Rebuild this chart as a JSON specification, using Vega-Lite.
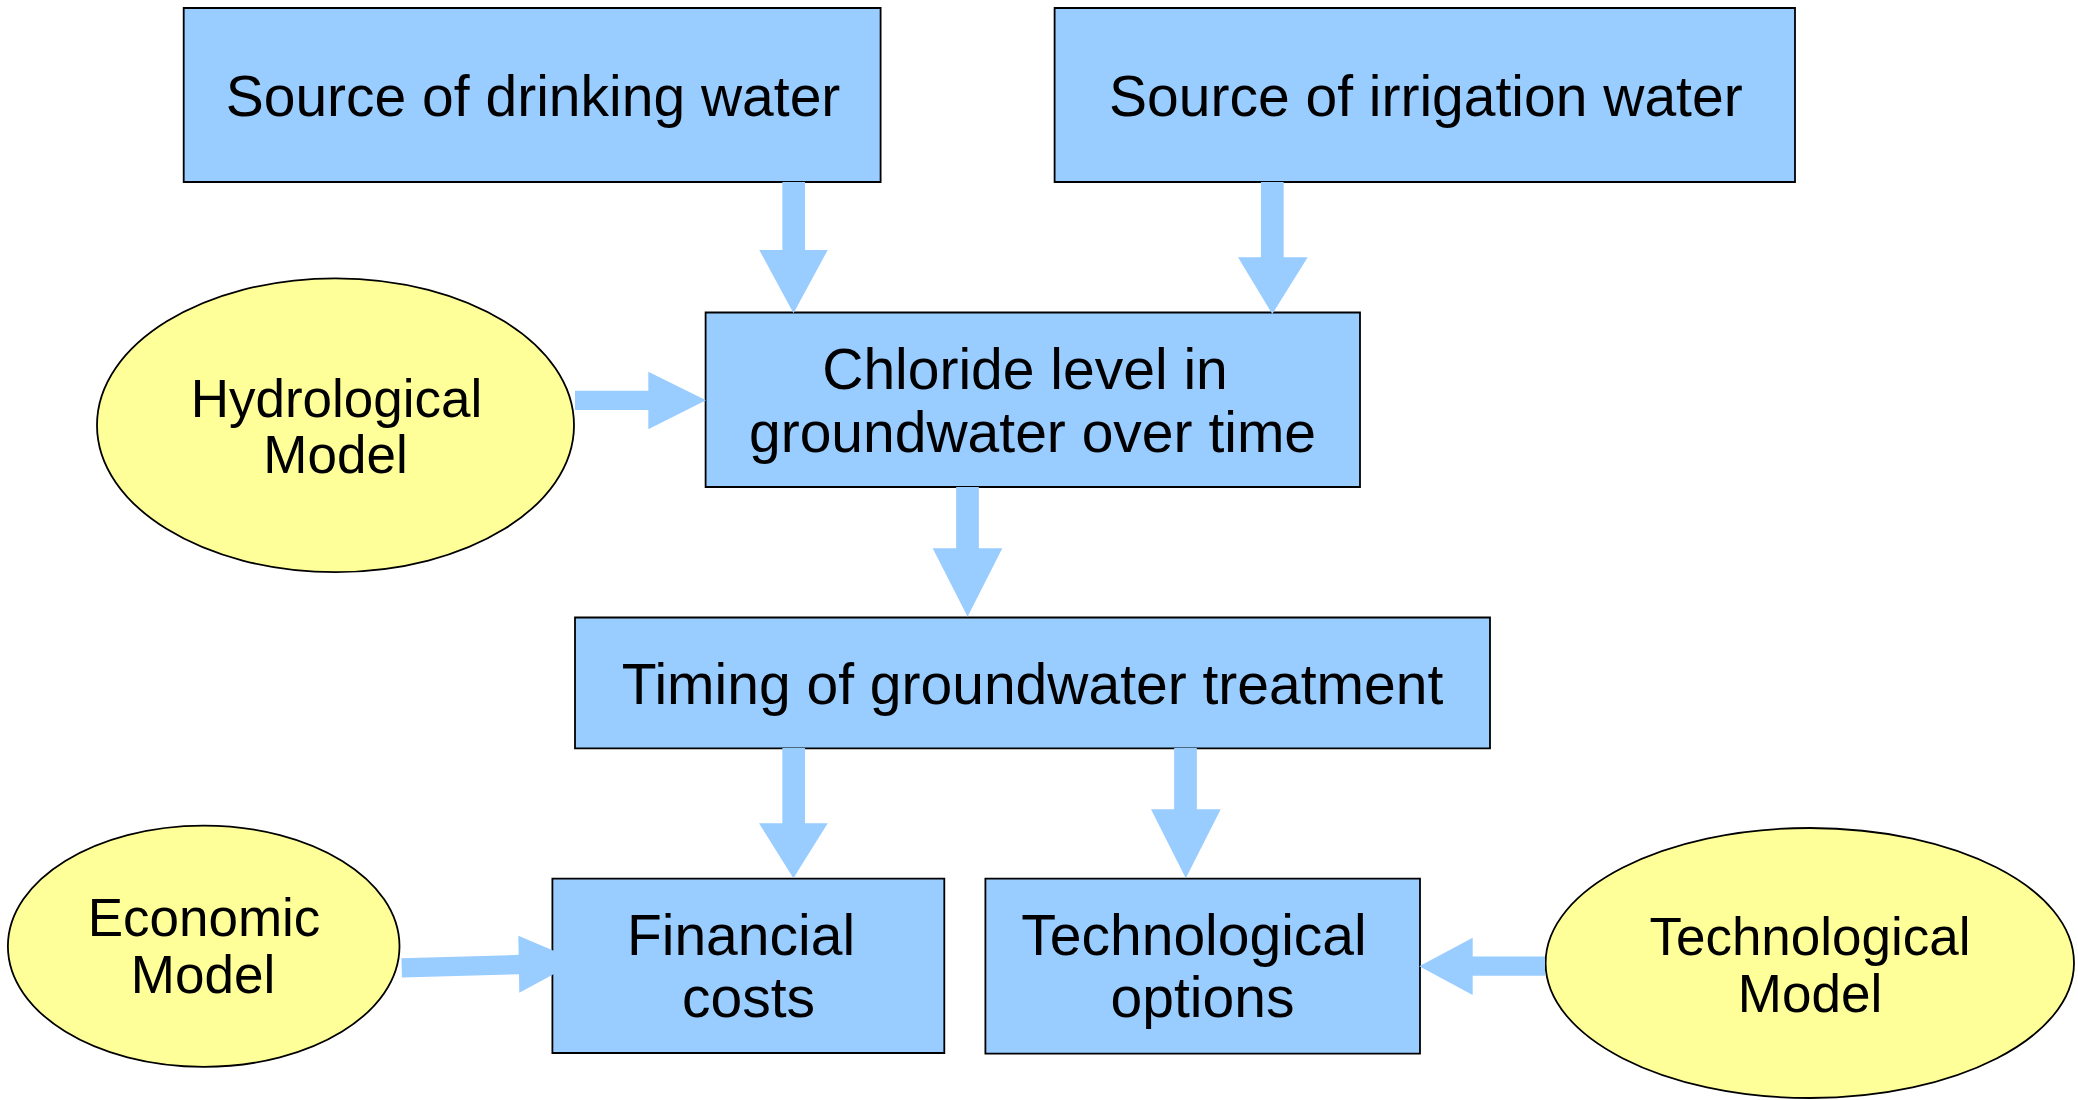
{
  "$schema": "https://vega.github.io/schema/vega-lite/v6.json",
  "width": 2078,
  "height": 1100,
  "autosize": {"type": "none"},
  "padding": 0,
  "background": "#ffffff",
  "config": {"view": {"stroke": null}},
  "datasets": {
    "boxes": [
      {"name": "drinking", "x1": 183.7, "x2": 880.6, "y1": 8, "y2": 182},
      {"name": "irrigation", "x1": 1054.6, "x2": 1795, "y1": 8, "y2": 182},
      {"name": "chloride", "x1": 705.6, "x2": 1360, "y1": 312.5, "y2": 487},
      {"name": "timing", "x1": 575, "x2": 1490, "y1": 617.5, "y2": 748.3},
      {"name": "financial", "x1": 552.4, "x2": 944.3, "y1": 878.6, "y2": 1053},
      {"name": "options", "x1": 985.4, "x2": 1420, "y1": 878.6, "y2": 1053.6}
    ],
    "ovals": [
      {"name": "Hydrological Model", "cx": 335.5, "cy": 425.2, "w": 477, "form": "a"},
      {"name": "Economic Model", "cx": 203.7, "cy": 946.2, "w": 391.6, "form": "a"},
      {"name": "Technological Model", "cx": 1809.8, "cy": 963, "w": 528.4, "form": "b"}
    ],
    "shafts": [
      {"id": "A1", "kind": "v", "x1": 793.7, "y1": 182, "x2": 793.7, "y2": 252},
      {"id": "A2", "kind": "v", "x1": 1272.3, "y1": 182, "x2": 1272.3, "y2": 259},
      {"id": "A4", "kind": "v", "x1": 967.5, "y1": 487, "x2": 967.5, "y2": 550},
      {"id": "A5", "kind": "v", "x1": 793.7, "y1": 748, "x2": 793.7, "y2": 825},
      {"id": "A6", "kind": "v", "x1": 1185.5, "y1": 748, "x2": 1185.5, "y2": 811},
      {"id": "A3", "kind": "h", "x1": 575, "y1": 400.3, "x2": 650, "y2": 400.3},
      {"id": "A7", "kind": "h", "x1": 401.7, "y1": 967.8, "x2": 520, "y2": 964.5},
      {"id": "A8", "kind": "h", "x1": 1545, "y1": 966.2, "x2": 1471, "y2": 966.2}
    ],
    "vheads": [
      {"id": "A1", "x": 759.3, "yb": 250, "yt": 250},
      {"id": "A1", "x": 793.5, "yb": 250, "yt": 313.3},
      {"id": "A1", "x": 827.7, "yb": 250, "yt": 250},
      {"id": "A2", "x": 1238, "yb": 257.3, "yt": 257.3},
      {"id": "A2", "x": 1272.3, "yb": 257.3, "yt": 314},
      {"id": "A2", "x": 1307.7, "yb": 257.3, "yt": 257.3},
      {"id": "A4", "x": 932.7, "yb": 548.3, "yt": 548.3},
      {"id": "A4", "x": 967.6, "yb": 548.3, "yt": 616.7},
      {"id": "A4", "x": 1002.3, "yb": 548.3, "yt": 548.3},
      {"id": "A5", "x": 759, "yb": 823.3, "yt": 823.3},
      {"id": "A5", "x": 793.4, "yb": 823.3, "yt": 878.3},
      {"id": "A5", "x": 827.7, "yb": 823.3, "yt": 823.3},
      {"id": "A6", "x": 1151, "yb": 809.3, "yt": 809.3},
      {"id": "A6", "x": 1185.8, "yb": 809.3, "yt": 878.3},
      {"id": "A6", "x": 1220.7, "yb": 809.3, "yt": 809.3}
    ],
    "hheads": [
      {"id": "A3", "y": 371.7, "xb": 648.3, "xt": 648.3},
      {"id": "A3", "y": 400.3, "xb": 648.3, "xt": 706},
      {"id": "A3", "y": 429.3, "xb": 648.3, "xt": 648.3},
      {"id": "A7", "y": 935.7, "xb": 518.3, "xt": 518.3},
      {"id": "A7", "y": 961, "xb": 518.8, "xt": 578},
      {"id": "A7", "y": 992.7, "xb": 519.3, "xt": 519.3},
      {"id": "A8", "y": 937.7, "xb": 1472.7, "xt": 1472.7},
      {"id": "A8", "y": 966.3, "xb": 1472.7, "xt": 1419.3},
      {"id": "A8", "y": 995, "xb": 1472.7, "xt": 1472.7}
    ],
    "labels": [
      {"text": "Source of drinking water", "kind": "box", "x": 533, "y": 116},
      {"text": "Source of irrigation water", "kind": "box", "x": 1425.8, "y": 116},
      {"text": "Chloride level in", "kind": "box", "x": 1025, "y": 388.6},
      {"text": "groundwater over time", "kind": "box", "x": 1032.5, "y": 452},
      {"text": "Timing of groundwater treatment", "kind": "box", "x": 1032.5, "y": 703.6},
      {"text": "Financial", "kind": "box", "x": 741, "y": 955},
      {"text": "costs", "kind": "box", "x": 748.5, "y": 1016.8},
      {"text": "Technological", "kind": "box", "x": 1194, "y": 955.4},
      {"text": "options", "kind": "box", "x": 1202.5, "y": 1016.8},
      {"text": "Hydrological", "kind": "oval", "x": 336.5, "y": 417},
      {"text": "Model", "kind": "oval", "x": 335.5, "y": 473},
      {"text": "Economic", "kind": "oval", "x": 204, "y": 936.4},
      {"text": "Model", "kind": "oval", "x": 203, "y": 993},
      {"text": "Technological", "kind": "oval", "x": 1810, "y": 955.4},
      {"text": "Model", "kind": "oval", "x": 1810, "y": 1012}
    ]
  },
  "layer": [
    {
      "data": {"name": "boxes"},
      "mark": {"type": "rect", "fill": "#99ccff", "stroke": "#000000", "strokeWidth": 1.8},
      "encoding": {
        "x": {"field": "x1", "type": "quantitative", "scale": {"domain": [0, 2078], "nice": false, "zero": false}, "axis": null},
        "x2": {"field": "x2"},
        "y": {"field": "y1", "type": "quantitative", "scale": {"domain": [0, 1100], "nice": false, "zero": false, "reverse": true}, "axis": null},
        "y2": {"field": "y2"}
      }
    },
    {
      "data": {"name": "ovals"},
      "mark": {"type": "point", "filled": true, "fill": "#ffff99", "stroke": "#000000", "strokeWidth": 1.8, "opacity": 1},
      "encoding": {
        "x": {"field": "cx", "type": "quantitative", "axis": null},
        "y": {"field": "cy", "type": "quantitative", "axis": null},
        "size": {"field": "w", "type": "quantitative", "scale": {"type": "pow", "exponent": 2, "domain": [0, 1000], "range": [0, 1000000]}, "legend": null},
        "shape": {"field": "form", "type": "nominal", "scale": {"domain": ["a", "b"], "range": ["M-1,0A1,0.616,0,1,1,1,0A1,0.616,0,1,1,-1,0Z", "M-1,0A1,0.511,0,1,1,1,0A1,0.511,0,1,1,-1,0Z"]}, "legend": null}
      }
    },
    {
      "data": {"name": "shafts"},
      "transform": [{"filter": "datum.kind === 'v'"}],
      "mark": {"type": "rule", "stroke": "#99ccff", "strokeWidth": 22.7, "strokeCap": "butt"},
      "encoding": {
        "x": {"field": "x1", "type": "quantitative", "axis": null},
        "y": {"field": "y1", "type": "quantitative", "axis": null},
        "x2": {"field": "x2"},
        "y2": {"field": "y2"}
      }
    },
    {
      "data": {"name": "shafts"},
      "transform": [{"filter": "datum.kind === 'h'"}],
      "mark": {"type": "rule", "stroke": "#99ccff", "strokeWidth": 19.3, "strokeCap": "butt"},
      "encoding": {
        "x": {"field": "x1", "type": "quantitative", "axis": null},
        "y": {"field": "y1", "type": "quantitative", "axis": null},
        "x2": {"field": "x2"},
        "y2": {"field": "y2"}
      }
    },
    {
      "data": {"name": "vheads"},
      "mark": {"type": "area", "orient": "vertical", "fill": "#99ccff", "opacity": 1},
      "encoding": {
        "x": {"field": "x", "type": "quantitative", "axis": null},
        "y": {"field": "yb", "type": "quantitative", "axis": null},
        "y2": {"field": "yt"},
        "detail": {"field": "id", "type": "nominal"}
      }
    },
    {
      "data": {"name": "hheads"},
      "mark": {"type": "area", "orient": "horizontal", "fill": "#99ccff", "opacity": 1},
      "encoding": {
        "y": {"field": "y", "type": "quantitative", "axis": null},
        "x": {"field": "xb", "type": "quantitative", "axis": null},
        "x2": {"field": "xt"},
        "detail": {"field": "id", "type": "nominal"}
      }
    },
    {
      "data": {"name": "labels"},
      "transform": [{"filter": "datum.kind === 'box'"}],
      "mark": {"type": "text", "font": "Liberation Sans", "fontSize": 57, "align": "center", "baseline": "alphabetic", "color": "#000000"},
      "encoding": {
        "x": {"field": "x", "type": "quantitative", "axis": null},
        "y": {"field": "y", "type": "quantitative", "axis": null},
        "text": {"field": "text", "type": "nominal"}
      }
    },
    {
      "data": {"name": "labels"},
      "transform": [{"filter": "datum.kind === 'oval'"}],
      "mark": {"type": "text", "font": "Liberation Sans", "fontSize": 53, "align": "center", "baseline": "alphabetic", "color": "#000000"},
      "encoding": {
        "x": {"field": "x", "type": "quantitative", "axis": null},
        "y": {"field": "y", "type": "quantitative", "axis": null},
        "text": {"field": "text", "type": "nominal"}
      }
    }
  ]
}
